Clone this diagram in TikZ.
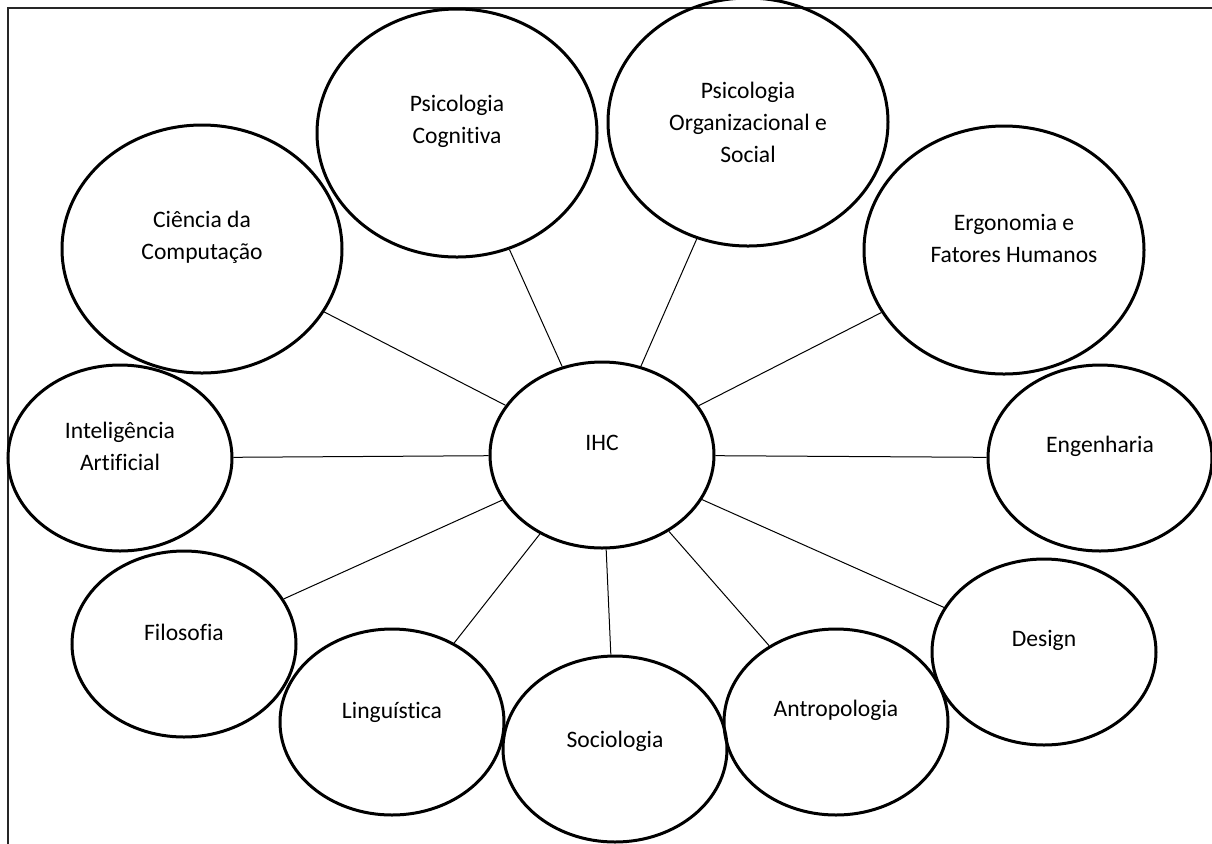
\documentclass[tikz,border=0pt]{standalone}
\usepackage{fontspec}
\setmainfont{Carlito}[RawFeature={-liga;-clig;-calt;-dlig}]
\usetikzlibrary{shapes.geometric}

\begin{document}
\begin{tikzpicture}[
  x=0.5pt, y=-0.5pt,
  disc/.style = {ellipse, draw, line width=1.5pt, inner sep=0pt,
                 minimum width=112pt, minimum height=93pt},
  bigdisc/.style = {disc, minimum width=140pt, minimum height=124pt},
  txt/.style = {align=center, yshift=6pt, font=\fontsize{11.8}{16}\selectfont},
  conn/.style = {line width=0.5pt}
]
  \useasboundingbox (0,0) rectangle (1212,843);
  \clip (0,0) rectangle (1212,843);
  \draw[line width=0.7pt, black!85] (8,8) rectangle (1230,860);

  \node[disc, label={[txt]center:IHC}] (ihc) at (602,455) {};
  \node[bigdisc, label={[txt]center:Ciência da\\Computação}] (cc) at (202,249) {};
  \node[bigdisc, label={[txt]center:Psicologia\\Cognitiva}] (pc) at (457,133) {};
  \node[bigdisc, label={[txt, yshift=-6pt]center:Psicologia\\Organizacional e\\Social}] (po) at (748,122) {};
  \node[bigdisc, label={[txt, xshift=5pt]center:Ergonomia e\\Fatores Humanos}] (erg) at (1004,250) {};
  \node[disc, label={[txt]center:Inteligência\\Artificial}] (ia) at (120,458) {};
  \node[disc, label={[txt]center:Engenharia}] (eng) at (1100,458) {};
  \node[disc, label={[txt]center:Filosofia}] (fil) at (184,644) {};
  \node[disc, label={[txt, yshift=-1pt]center:Linguística}] (ling) at (392,722) {};
  \node[disc, label={[txt, yshift=-2pt]center:Sociologia}] (soc) at (615,749) {};
  \node[disc, label={[txt]center:Antropologia}] (antr) at (836,722) {};
  \node[disc, label={[txt]center:Design}] (des) at (1044,652) {};

  \foreach \n in {cc,pc,po,erg,ia,eng,fil,ling,soc,antr,des}
    \draw[conn] (ihc) -- (\n);
\end{tikzpicture}
\end{document}
